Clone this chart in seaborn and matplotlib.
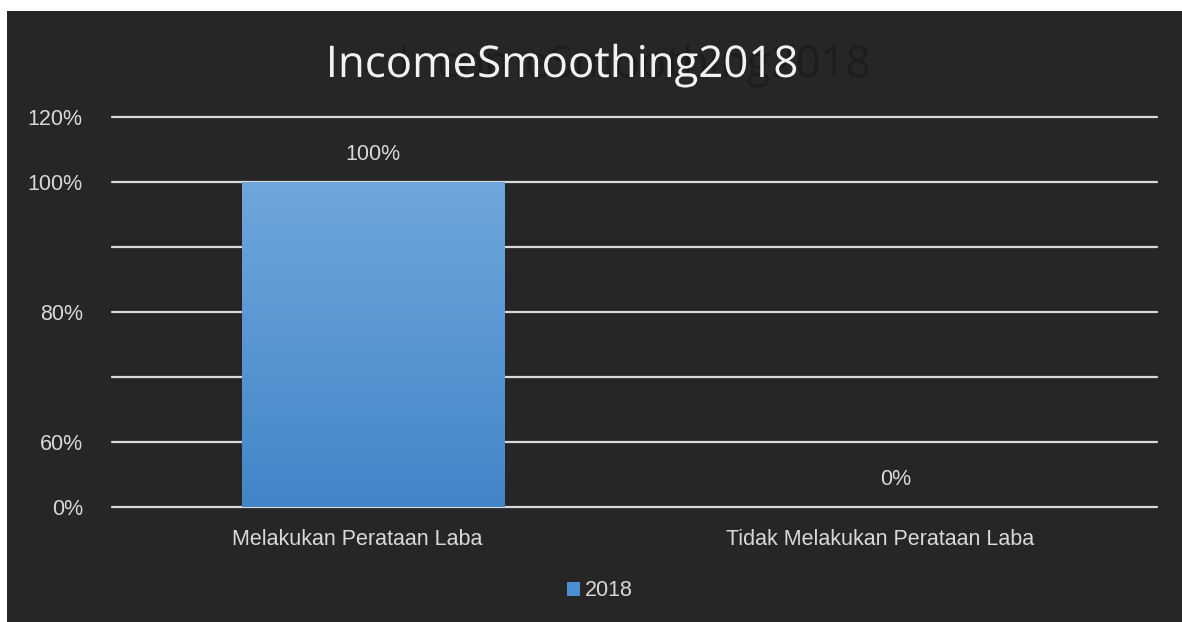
import numpy as np
import pandas as pd
import matplotlib
matplotlib.use("Agg")
import matplotlib.pyplot as plt
import matplotlib.transforms as mtrans
import matplotlib.patheffects as pe
import seaborn as sns
from matplotlib.patches import Rectangle, Patch

# ---- data ----
categories = ["Melakukan Perataan Laba", "Tidak Melakukan Perataan Laba"]
values_2018 = [100, 0]
series_name = "2018"
title_text = "IncomeSmoothing2018"
# irregular axis as drawn in the original chart
tick_values = [0, 60, 70, 80, 90, 100, 120]
tick_labels = ["0%", "60%", "", "80%", "", "100%", "120%"]

BG = "#262626"
TXT = "#d9d9d9"
GRID = "#d9d9d9"
BAR = "#4a8fd6"
FS = 15.5

sns.set_theme(style="dark")
plt.rcParams["font.family"] = ["Liberation Sans", "DejaVu Sans"]

W, H = 1182, 622
fig = plt.figure(figsize=(W / 100, H / 100), dpi=100, facecolor="white")
fig.patches.append(Rectangle((7 / W, 0), 1 - 7 / W, 1 - 11 / H,
                             transform=fig.transFigure, facecolor=BG,
                             edgecolor="none", zorder=-10))

ax = fig.add_axes([112 / W, 1 - 507 / H, (1157 - 112) / W, (507 - 117) / H])
ax.set_facecolor("none")

df = pd.DataFrame({"category": categories, "value": values_2018})
sns.barplot(data=df, x="category", y="value", color=BAR, width=0.503,
            saturation=1, ax=ax, zorder=3, edgecolor="none")

pos = np.arange(len(tick_values), dtype=float)
tv = np.array(tick_values, dtype=float)
fwd = lambda v: np.interp(v, tv, pos)
inv = lambda p: np.interp(p, pos, tv)
ax.set_yscale("function", functions=(fwd, inv))
ax.set_ylim(0, 120)
ax.set_xlim(-0.5, 1.5)

ax.set_yticks(tick_values)
ax.set_yticklabels(tick_labels)
ax.tick_params(axis="y", length=0, pad=21, labelsize=FS, labelcolor=TXT)
ax.tick_params(axis="x", length=0, pad=16, labelsize=FS, labelcolor=TXT)
shift = mtrans.ScaledTranslation(-16 / 100, 0, fig.dpi_scale_trans)
for lab in ax.get_xticklabels():
    lab.set_transform(lab.get_transform() + shift)
ax.set_xlabel("")
ax.set_ylabel("")
ax.grid(False)
for s in ax.spines.values():
    s.set_visible(False)

for v in tick_values:
    ax.axhline(v, color=GRID, lw=1.6, zorder=2, clip_on=False)

# gradient fill on bars
fig.canvas.draw()
grad = np.linspace(0, 1, 256).reshape(-1, 1)
cmap = matplotlib.colors.LinearSegmentedColormap.from_list("g", ["#6fa6dc", "#4286c8"])
for p in ax.patches:
    bb = p.get_window_extent().transformed(ax.transAxes.inverted())
    if bb.height <= 0:
        continue
    im = ax.imshow(grad, cmap=cmap, aspect="auto", transform=ax.transAxes,
                   extent=[bb.x0, bb.x1, bb.y0, bb.y1], zorder=4, origin="upper")
    im.set_clip_path(p)

ax.bar_label(ax.containers[0], labels=[f"{v:.0f}%" for v in values_2018],
             padding=12, fontsize=FS, color=TXT, zorder=6)

# title with offset ghost shadow
fig.text(562 / W, 1 - 77 / H, title_text, ha="center", va="baseline",
         fontsize=31.5, color="#f2f2f2", family="Open Sans", weight="medium",
         zorder=2,
         path_effects=[pe.withSimplePatchShadow(offset=(52, 0),
                                                shadow_rgbFace="#1d1d1d",
                                                alpha=1.0)])

fig.legend(handles=[Patch(facecolor=BAR, edgecolor="none", label=series_name)],
           loc="center", bbox_to_anchor=(600 / W, 1 - 591 / H), frameon=False,
           fontsize=FS, labelcolor=TXT, handlelength=0.6, handleheight=0.6,
           handletextpad=0.25)

fig.savefig("out.png", dpi=100, facecolor="white")
